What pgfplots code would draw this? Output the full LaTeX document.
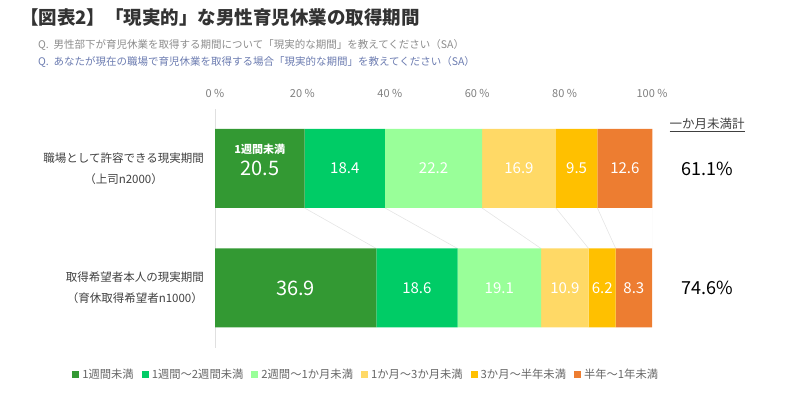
\documentclass[border=0pt]{standalone}
\usepackage{fontspec}
\setmainfont{Noto Sans CJK JP}
\usepackage{pgfplots}
\usepackage{pgfplotstable}
\pgfplotsset{compat=1.18}
\definecolor{cA}{HTML}{339933}
\definecolor{cB}{HTML}{00CC66}
\definecolor{cC}{HTML}{99FF99}
\definecolor{cD}{HTML}{FFD966}
\definecolor{cE}{HTML}{FFC000}
\definecolor{cF}{HTML}{ED7D31}
\definecolor{ttl}{HTML}{333333}
\definecolor{sub1}{HTML}{8C8C8C}
\definecolor{sub2}{HTML}{6B7BB0}
\definecolor{lbl}{HTML}{404040}
\definecolor{tick}{HTML}{7F7F7F}
\definecolor{legtext}{HTML}{666666}

\pgfplotstableread{
y v1 v2 v3 v4 v5 v6
1 20.5 18.4 22.2 16.9 9.5 12.6
0 36.9 18.6 19.1 10.9 6.2 8.3
}\data

\pgfplotsset{
  geom/.style={at={(215pt,48.25pt)}, anchor=south west, scale only axis,
    width=437pt, height=239pt, xmin=0, xmax=100, ymin=-0.5, ymax=1.5},
}

\begin{document}
\begin{tikzpicture}
\path[use as bounding box] (0,0) rectangle (800pt,396pt);
\node[anchor=base west, inner sep=0, font=\fontsize{18.5}{20}\selectfont\bfseries, text=ttl] at (20pt,371pt) {【図表2】「現実的」な男性育児休業の取得期間};
\node[anchor=base west, inner sep=0, font=\fontsize{10.5}{12}\selectfont, text=sub1] at (38pt,347pt) {Q.\ \ 男性部下が育児休業を取得する期間について「現実的な期間」を教えてください（SA）};
\node[anchor=base west, inner sep=0, font=\fontsize{10.5}{12}\selectfont, text=sub2] at (38pt,330pt) {Q.\ \ あなたが現在の職場で育児休業を取得する場合「現実的な期間」を教えてください（SA）};

% connector lines
\begin{axis}[geom, hide axis]
\addplot[black!10, line width=0.6pt] coordinates {(20.5,0.6695) (36.9,0.3305)};
\addplot[black!10, line width=0.6pt] coordinates {(38.9,0.6695) (55.5,0.3305)};
\addplot[black!10, line width=0.6pt] coordinates {(61.1,0.6695) (74.6,0.3305)};
\addplot[black!10, line width=0.6pt] coordinates {(78.0,0.6695) (85.5,0.3305)};
\addplot[black!10, line width=0.6pt] coordinates {(87.5,0.6695) (91.7,0.3305)};
\addplot[black!10, line width=0.6pt] coordinates {(100,0.6695) (100,0.3305)};
\end{axis}

\begin{axis}[geom,
  xbar stacked, bar width=79pt,
  clip=false,
  axis x line*=top, axis y line*=left,
  x axis line style={draw=none},
  y axis line style={draw=black!12, line width=0.8pt},
  major tick length=0pt,
  xtick={0,20,40,60,80,100},
  xticklabels={0 \%,20 \%,40 \%,60 \%,80 \%,100 \%},
  xticklabel style={anchor=base, inner sep=0pt, yshift=11pt, font=\fontsize{11}{12}\selectfont, text=tick},
  ytick={0,1},
  yticklabels={{取得希望者本人の現実期間\\（育休取得希望者n1000）},{職場として許容できる現実期間\\（上司n2000）}},
  yticklabel style={anchor=east, align=center, inner sep=0pt, xshift=-11pt, font=\fontsize{11.5}{21}\selectfont, text=lbl},
  legend columns=6,
  legend style={at={(-0.327,-0.11)}, anchor=west, draw=none, fill=none, inner sep=0pt,
    font=\fontsize{11.3}{12}\selectfont, text=legtext,
    /tikz/every odd column/.append style={column sep=1pt},
    /tikz/every even column/.append style={column sep=6pt}},
  legend image code/.code={\fill[#1] (0pt,-3.5pt) rectangle (7pt,3.5pt);},
]
\addplot[fill=cA, draw=none] table[x=v1, y=y] {\data};
\addplot[fill=cB, draw=none] table[x=v2, y=y] {\data};
\addplot[fill=cC, draw=none] table[x=v3, y=y] {\data};
\addplot[fill=cD, draw=none] table[x=v4, y=y] {\data};
\addplot[fill=cE, draw=none] table[x=v5, y=y] {\data};
\addplot[fill=cF, draw=none] table[x=v6, y=y] {\data};
\legend{1週間未満,1週間～2週間未満,2週間～1か月未満,1か月～3か月未満,3か月～半年未満,半年～1年未満}
\end{axis}

% value labels and annotations (segment mid-points)
\begin{axis}[geom, hide axis, clip=false]
\addplot[draw=none, mark=none, nodes near coords, point meta=explicit symbolic,
  every node near coord/.style={anchor=center, inner sep=0pt, text=white, font=\fontsize{20}{22}\selectfont}]
  coordinates {(10.25,1) [20.5] (18.45,0) [36.9]};
\addplot[draw=none, mark=none, nodes near coords, point meta=explicit symbolic,
  every node near coord/.style={anchor=center, inner sep=0pt, text=white, font=\fontsize{15}{17}\selectfont}]
  coordinates {(29.7,1) [18.4] (50.0,1) [22.2] (69.55,1) [16.9] (82.75,1) [9.5] (93.8,1) [12.6]
               (46.2,0) [18.6] (65.05,0) [19.1] (80.05,0) [10.9] (88.6,0) [6.2] (95.85,0) [8.3]};
\node[text=white, font=\fontsize{11}{13}\selectfont\bfseries, yshift=19.5pt] at (axis cs:10.25,1) {1週間未満};
\node[text=lbl, font=\fontsize{12.5}{14}\selectfont] at (axis cs:112.6,1.364) {\underline{一か月未満計}};
\node[text=black, font=\fontsize{18}{20}\selectfont] at (axis cs:112.6,1) {61.1\%};
\node[text=black, font=\fontsize{18}{20}\selectfont] at (axis cs:112.6,0) {74.6\%};
\end{axis}
\end{tikzpicture}
\end{document}
